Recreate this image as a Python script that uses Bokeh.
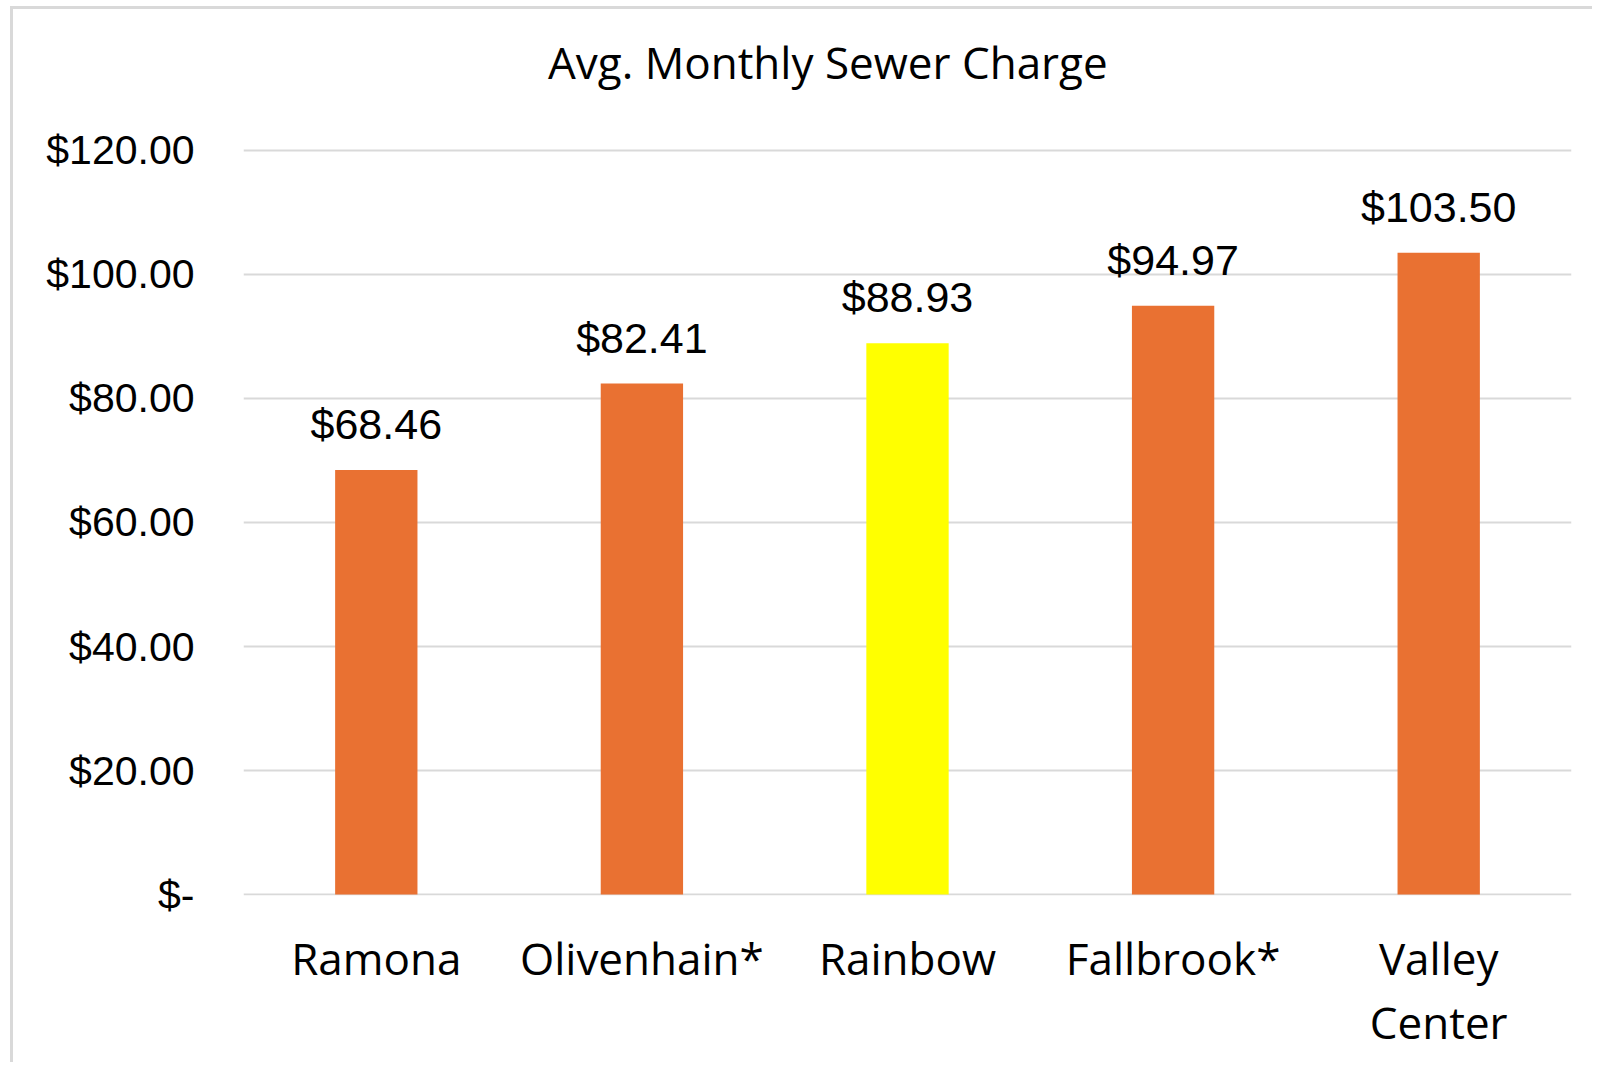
from bokeh.plotting import figure
from bokeh.models import ColumnDataSource, LabelSet, Label, Range1d, FixedTicker
from bokeh.core.properties import value
from bokeh.embed import file_html
from bokeh.resources import INLINE

# ---- data ----
districts = ["Ramona", "Olivenhain*", "Rainbow", "Fallbrook*", "Valley\nCenter"]
charges = [68.46, 82.41, 88.93, 94.97, 103.50]
charge_labels = ["$68.46", "$82.41", "$88.93", "$94.97", "$103.50"]
y_ticks = [0, 20, 40, 60, 80, 100, 120]
y_tick_labels = ["$-", "$20.00", "$40.00", "$60.00", "$80.00", "$100.00", "$120.00"]
title_text = "Avg. Monthly Sewer Charge"
highlight = "Rainbow"

# ---- styles ----
ORANGE = "#E97132"
YELLOW = "#FFFF00"
GRID = "#D9D9D9"
colors = [YELLOW if d == highlight else ORANGE for d in districts]

src = ColumnDataSource(dict(x=districts, top=charges, label=charge_labels, color=colors))

# frame extends up to the top so the title can sit inside it (above the 120 gridline)
p = figure(
    x_range=districts,
    y_range=Range1d(-0.16, 142.74),
    width=1582, height=1056,
    output_backend="svg", toolbar_location=None,
    min_border_left=230, min_border_right=24,
    min_border_top=0, min_border_bottom=170,
)
p.styles = {"border-left": "3px solid #D9D9D9", "border-top": "3px solid #D9D9D9",
            "margin-left": "10px", "margin-top": "6px"}
p.outline_line_color = None
p.background_fill_color = "white"
p.border_fill_color = "white"

p.vbar(x="x", top="top", bottom=0, width=0.31, fill_color="color", line_color=None, source=src)

labels = LabelSet(x="x", y="top", text="label", source=src, y_offset=31,
                  text_align="center", text_baseline="alphabetic",
                  text_font=value("Liberation Sans"), text_font_size=value("43px"),
                  text_color="#000000")
p.add_layout(labels)

p.add_layout(Label(x=2.2, y=134.35, text=title_text, text_align="center",
                   text_baseline="alphabetic", text_font="Open Sans",
                   text_font_size="44px", text_color="#000000"))

# axes
p.yaxis.ticker = FixedTicker(ticks=y_ticks)
p.yaxis.major_label_overrides = {t: l for t, l in zip(y_ticks, y_tick_labels)}
p.yaxis.axis_line_color = None
p.yaxis.major_tick_line_color = None
p.yaxis.minor_tick_line_color = None
p.yaxis.major_tick_out = 0
p.yaxis.major_tick_in = 0
p.yaxis.major_label_standoff = 49
p.yaxis.major_label_text_font = "Liberation Sans"
p.yaxis.major_label_text_font_size = "41px"
p.yaxis.major_label_text_color = "#000000"

p.xaxis.axis_line_color = None
p.xaxis.major_tick_line_color = None
p.xaxis.major_tick_out = 0
p.xaxis.major_tick_in = 0
p.xaxis.major_label_standoff = 32
p.xaxis.major_label_text_font = "Open Sans"
p.xaxis.major_label_text_font_size = "44px"
p.xaxis.major_label_text_color = "#000000"
p.xaxis.major_label_text_line_height = 1.08

p.xgrid.grid_line_color = None
p.ygrid.grid_line_color = GRID
p.ygrid.grid_line_width = 2

open("out.html", "w").write(file_html(p, INLINE))
